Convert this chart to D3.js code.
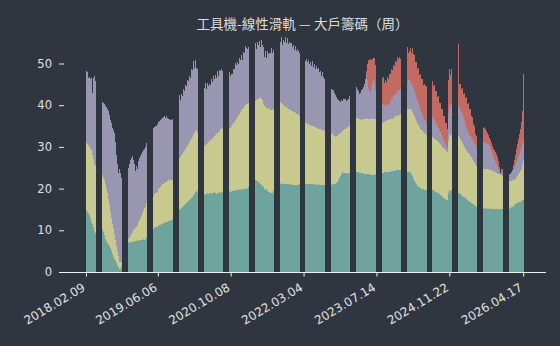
<!DOCTYPE html>
<html>
<head>
<meta charset="utf-8">
<script src="https://cdn.jsdelivr.net/npm/d3@7.9.0/dist/d3.min.js"></script>
<style>
  html, body { margin: 0; padding: 0; background: #2f3640; }
  svg { display: block; }
</style>
</head>
<body>
<svg id="chart" width="560" height="346"></svg>
<script>
// Chart text
const title = '工具機-線性滑軌 — 大戶籌碼（周）';
const tickLabels = ['2018.02.09', '2019.06.06', '2020.10.08', '2022.03.04', '2023.07.14', '2024.11.22', '2026.04.17'];
const tickIndex = [0, 69, 139, 209, 279, 349, 420];
const yTicks = [0, 10, 20, 30, 40, 50];

// Weekly series (bottom to top), % held
const teal = [
  14.9,14.5,14.2,13.6,13.0,12.1,11.5,10.8,9.9,9.3,
  9.5,10.0,10.4,10.8,11.0,
  10.2,9.5,8.8,8.0,7.5,7.0,6.6,6.2,5.7,5.0,4.3,3.7,3.2,2.6,2.1,1.6,1.2,0.8,
  0.8,1.5,3.0,5.0,6.3,6.8,
  7.0,7.1,7.0,7.2,7.3,7.2,7.4,7.3,7.5,7.4,7.6,7.5,7.6,7.7,7.6,7.7,7.8,7.7,7.8,
  8.3,8.9,9.4,9.8,10.0,
  10.2,10.4,10.5,10.7,10.8,10.9,11.1,11.2,11.3,11.4,11.6,11.7,11.8,11.9,12.0,12.1,12.2,12.3,12.4,12.5,12.5,
  13.0,13.5,14.0,14.3,
  14.6,14.8,15.0,15.3,15.5,15.8,16.0,16.2,16.5,16.7,17.0,17.2,17.5,17.8,18.1,18.5,18.8,19.2,19.4,
  19.3,19.2,19.1,19.0,19.0,
  18.6,18.7,18.5,18.8,18.9,18.7,18.9,19.0,18.8,18.9,19.1,18.9,19.0,18.8,19.0,18.9,19.1,19.0,19.1,
  19.2,19.2,19.3,19.3,19.2,19.3,
  19.3,19.4,19.3,19.5,19.4,19.6,19.5,19.6,19.7,19.6,19.8,19.7,19.8,19.9,19.8,20.0,19.9,20.1,20.0,
  20.3,20.6,21.0,21.4,21.8,
  21.9,22.0,21.8,21.9,21.6,21.3,21.2,20.9,20.6,20.3,20.0,19.7,19.8,19.4,19.2,19.1,18.9,19.0,18.9,
  19.4,19.9,20.4,20.8,21.1,
  21.3,21.2,21.3,21.2,21.1,21.2,21.1,21.0,21.1,21.0,21.0,20.9,21.0,20.9,20.9,20.8,20.9,20.8,20.9,
  20.9,21.0,21.1,21.2,21.3,
  21.2,21.1,21.2,21.1,21.0,21.1,21.0,21.0,21.1,21.0,20.9,21.0,20.9,20.9,21.0,20.9,20.8,20.9,20.8,20.9,
  20.9,20.9,20.9,20.9,20.9,
  20.9,20.9,21.0,21.0,21.1,21.2,21.3,21.6,22.0,22.5,23.0,23.6,24.0,23.8,23.7,23.8,23.7,23.6,23.7,
  23.8,23.9,23.9,24.0,24.0,
  24.0,24.0,23.9,23.9,23.8,23.8,23.7,23.7,23.6,23.6,23.5,23.5,23.4,23.4,23.4,23.3,23.3,23.3,23.3,23.3,
  23.4,23.5,23.6,23.6,23.7,
  23.7,23.8,23.8,23.9,23.9,24.0,24.0,24.0,24.1,24.1,24.2,24.2,24.3,24.3,24.4,24.4,24.5,24.5,24.5,
  24.5,24.5,24.4,24.4,24.3,
  24.0,24.1,24.0,24.0,23.9,23.6,23.0,22.4,21.9,21.4,21.0,20.6,20.4,20.3,20.1,20.0,19.8,19.8,19.7,
  19.7,19.7,19.7,19.7,19.7,
  19.8,19.7,19.6,19.4,19.3,19.1,19.0,18.9,18.7,18.5,18.3,18.0,17.8,17.6,17.4,17.3,17.2,19.0,19.6,19.4,19.7,
  19.5,19.3,19.2,19.0,
  19.2,19.0,18.9,18.7,18.5,18.3,18.1,17.9,17.7,17.5,17.3,17.1,16.9,16.7,16.6,16.4,16.2,16.0,15.8,15.7,
  15.5,15.4,15.4,15.3,
  15.3,15.2,15.3,15.2,15.3,15.2,15.2,15.3,15.2,15.2,15.1,15.2,15.1,15.2,15.1,15.1,15.2,15.1,15.1,15.2,
  15.1,15.0,15.0,14.9,14.9,
  14.9,15.1,15.3,15.5,15.7,15.9,16.1,16.3,16.5,16.6,16.7,16.8,16.9,17.0,17.2,17.3
];

const yellow = [
  16.3,16.3,16.3,16.3,16.5,17.1,16.5,16.3,16.1,16.1,
  15.0,14.5,14.0,13.5,13.0,
  13.1,13.1,13.2,13.0,12.5,12.0,11.0,9.8,8.8,8.0,7.2,6.6,5.8,5.0,4.1,3.4,2.6,1.7,
  1.5,1.0,0.8,0.5,0.4,0.3,
  0.4,0.7,1.2,1.4,1.9,2.4,2.7,3.1,3.1,3.5,3.7,4.4,4.8,5.3,5.9,6.5,7.0,7.6,7.9,
  8.2,8.0,8.0,8.0,8.0,
  7.8,7.9,8.1,8.2,8.2,8.4,8.7,9.0,9.2,9.4,9.4,9.5,9.5,9.7,9.7,9.8,10.0,9.5,9.6,9.6,9.5,
  10.5,11.0,11.5,12.0,
  12.4,12.5,12.6,12.7,12.8,12.9,13.1,13.3,13.4,13.6,13.8,14.0,14.1,14.2,14.3,14.5,14.6,14.6,14.6,
  14.0,13.0,12.0,11.5,11.2,
  11.4,11.5,11.9,11.9,12.0,12.4,12.4,12.6,13.0,13.1,13.2,13.6,13.8,14.2,14.3,14.7,14.8,15.2,15.4,
  15.0,14.8,14.6,14.6,14.6,14.7,
  14.9,15.2,15.7,15.9,16.3,16.4,16.9,17.2,17.5,18.0,18.2,18.7,19.0,19.2,19.6,19.8,20.2,20.2,20.4,
  20.2,20.0,19.6,19.3,19.0,
  18.9,19.0,19.4,19.5,20.0,20.5,20.8,20.7,20.6,20.1,19.8,19.9,19.6,19.8,20.1,19.9,20.0,19.8,19.9,
  19.8,19.9,20.0,20.0,20.0,
  19.7,19.6,19.3,19.1,18.9,18.6,18.5,18.5,18.2,18.1,18.0,17.9,17.7,17.7,17.5,17.5,17.3,17.2,17.1,
  17.0,16.5,16.0,15.5,15.0,
  14.8,14.7,14.5,14.4,14.4,14.1,14.2,14.0,14.0,13.9,13.9,13.8,13.7,13.6,13.4,13.4,13.4,13.2,13.2,13.1,
  13.0,12.8,12.6,12.5,12.4,
  12.7,12.4,12.0,11.8,11.4,11.2,11.2,11.1,11.0,10.7,10.4,10.0,9.8,10.2,10.5,10.6,10.8,11.1,11.1,
  11.5,12.0,12.5,12.8,13.0,
  13.2,13.0,13.0,12.8,12.8,12.7,12.9,12.8,13.1,13.2,13.3,13.4,13.3,13.4,13.2,13.5,13.6,13.4,13.5,13.5,
  13.2,12.8,12.5,12.2,12.0,
  12.0,12.0,12.1,12.1,12.3,12.3,12.4,12.5,12.5,12.6,12.6,12.6,12.7,12.9,12.9,13.0,13.0,13.1,13.2,
  13.5,14.0,14.5,14.6,14.7,
  14.8,14.9,15.2,15.2,15.1,15.2,15.4,15.6,15.5,15.4,15.2,15.0,14.8,14.5,14.3,14.0,13.9,13.7,13.6,
  13.4,13.2,13.0,12.9,12.8,
  12.8,12.7,12.6,12.6,12.5,12.5,12.4,12.3,12.2,12.1,12.0,12.0,11.9,11.8,11.8,11.7,11.6,12.5,13.4,13.2,13.5,
  13.4,13.4,13.4,13.5,
  13.8,13.7,13.5,13.2,12.9,12.6,12.3,12.1,11.9,11.7,11.5,11.4,11.3,11.2,11.0,10.7,10.4,10.1,9.9,9.6,
  9.5,9.5,9.5,9.6,
  9.6,9.6,9.5,9.5,9.4,9.4,9.4,9.2,9.3,9.2,9.2,9.0,9.0,8.8,8.7,8.6,8.3,8.3,8.2,8.1,
  8.0,7.6,7.3,7.1,7.0,
  7.1,6.8,6.5,6.4,6.3,6.1,6.0,5.9,6.1,6.4,6.7,7.0,7.4,7.8,8.4,9.6
];

const purple = [
  16.9,17.1,16.0,16.9,16.8,17.4,15.0,19.4,20.9,20.4,
  19.5,18.5,18.0,17.5,17.2,
  17.5,17.9,18.2,18.8,19.6,20.0,20.9,21.6,22.0,22.8,23.0,23.7,24.3,23.6,21.8,21.0,19.9,22.3,
  21.5,20.0,19.0,17.5,16.8,16.4,
  16.6,17.2,17.8,18.3,18.1,18.1,16.7,15.6,13.6,14.4,13.3,14.6,15.0,14.7,14.8,14.6,14.5,14.3,14.3,
  14.5,15.0,15.5,16.0,16.0,
  16.0,16.2,16.2,16.2,16.0,16.3,16.1,16.0,16.0,16.0,16.0,16.0,16.2,15.4,15.6,15.0,14.4,15.0,14.5,14.3,14.7,
  15.0,15.5,16.0,16.5,
  17.0,15.2,13.6,14.6,14.0,15.3,14.2,15.4,14.6,15.8,14.9,15.9,15.0,16.6,16.0,17.6,15.6,17.1,15.0,
  15.5,15.5,15.3,15.2,15.2,
  15.0,14.0,14.9,13.2,14.4,13.5,13.8,13.3,14.4,13.6,14.6,13.9,14.4,13.6,14.9,13.4,14.5,14.0,14.2,
  14.0,14.0,14.2,14.3,14.3,14.2,
  13.8,12.4,12.6,12.0,13.0,12.6,13.7,12.8,13.1,12.3,13.4,12.4,13.3,11.8,13.3,12.8,14.0,13.5,13.0,
  13.5,13.6,13.5,13.4,13.4,
  13.2,13.8,12.2,13.7,12.8,13.7,12.0,14.1,13.2,13.6,11.8,13.3,12.0,13.7,12.9,13.6,13.7,14.8,13.6,
  14.0,14.5,14.8,15.0,15.2,
  15.4,14.4,15.8,14.1,15.6,15.4,16.7,15.5,16.7,15.5,16.2,16.0,16.3,15.4,16.0,14.9,16.0,15.0,15.5,
  15.0,15.0,15.0,15.2,15.2,
  15.2,14.8,15.3,14.9,15.4,14.6,15.2,14.4,15.4,14.3,15.0,14.0,14.8,14.3,14.6,13.6,14.0,12.9,14.0,12.8,
  12.5,12.0,11.5,11.0,10.8,
  10.8,10.7,10.6,10.8,10.5,10.0,9.5,8.9,8.2,7.8,7.4,7.6,7.2,7.4,7.4,7.0,6.5,6.5,6.7,
  7.0,7.5,7.8,8.0,8.0,
  7.6,7.4,6.9,6.7,6.2,6.5,7.0,7.5,7.7,8.4,9.6,10.3,9.3,7.4,6.8,6.4,7.6,8.5,9.2,8.8,
  7.0,5.8,5.0,4.6,4.5,
  4.7,4.4,4.1,3.8,3.8,3.7,3.8,3.5,3.8,4.3,4.6,5.0,5.2,5.2,5.5,5.6,5.9,6.0,5.9,
  6.0,6.2,6.4,6.5,6.5,
  6.4,6.6,6.8,6.8,6.6,6.4,6.4,6.2,6.2,6.0,5.8,5.6,5.4,5.0,4.8,4.4,3.9,3.5,3.2,
  3.0,2.8,2.8,2.8,2.9,
  5.0,4.8,4.6,4.4,4.2,3.9,3.6,3.3,3.1,2.9,2.7,2.4,2.1,1.8,1.4,1.2,1.0,6.5,7.0,7.0,7.0,
  7.0,7.0,7.2,7.2,
  7.4,7.3,7.2,7.1,7.0,6.9,6.8,6.4,6.0,5.6,5.2,4.9,4.7,4.6,4.5,4.6,4.7,4.7,4.7,4.7,
  5.5,6.0,6.5,6.8,
  6.7,6.6,6.4,6.3,6.2,6.2,6.0,5.7,5.1,4.6,4.1,3.4,2.8,2.4,2.0,1.6,1.3,0.8,0.4,0.5,
  0.6,0.7,0.8,1.0,1.2,
  1.7,1.5,1.7,2.0,2.3,2.7,3.1,3.6,3.8,4.0,4.2,4.5,4.7,5.0,5.1,4.8
];

const red = [
  0,0,0,0,0,0,0,0,0,0,0,0,0,0,0,0,0,0,0,0,0,0,0,0,0,0,0,0,0,0,
  0,0,0,0,0,0,0,0,0,0,0,0,0,0,0,0,0,0,0,0,0,0,0,0,0,0,0,0,0,0,
  0,0,0,0,0,0,0,0,0,0,0,0,0,0,0,0,0,0,0,0,0,0,0,0,0,0,0,0,0,0,
  0,0,0,0,0,0,0,0,0,0,0,0,0,0,0,0,0,0,0,0,0,0,0,0,0,0,0,0,0,0,
  0,0,0,0,0,0,0,0,0,0,0,0,0,0,0,0,0,0,0,0,0,0,0,0,0,0,0,0,0,0,
  0,0,0,0,0,0,0,0,0,0,0,0,0,0,0,0,0,0,0,0,0,0,0,0,0,0,0,0,0,0,
  0,0,0,0,0,0,0,0,0,0,0,0,0,0,0,0,0,0,0,0,0,0,0,0,0,0,0,0,0,0,
  0,0,0,0,0,0,0,0,0,0,0,0,0,0,0,0,0,0,0,0,0,0,0,0,0,0,0,0,0,0,
  0,0,0,0,0,0,0,0,0,0,0,0,0,0,0,0,0,0,0,0,0,0,0,0,0,0,0,0,0,
  1.0,3.8,6.6,7.4,7.8,6.4,5.8,5.2,5.8,
  6.0,6.5,7.0,7.2,7.4,
  7.4,6.4,6.8,5.6,6.0,5.6,6.6,6.4,7.2,6.4,7.2,6.6,7.4,7.0,7.9,7.4,8.2,7.4,7.9,
  7.0,6.8,6.6,6.5,6.5,
  6.8,8.4,6.6,7.0,8.2,7.2,8.8,8.0,8.4,7.6,8.4,7.6,8.4,7.4,8.4,7.8,8.8,7.8,8.5,
  8.5,9.0,9.5,10.0,10.0,
  8.2,8.6,7.8,8.4,7.4,7.9,7.0,7.7,6.6,7.1,6.0,6.6,5.6,6.2,5.2,5.6,4.6,8.0,8.8,7.6,8.6,
  7.0,6.5,6.0,5.8,
  6.0,14.6,5.4,6.2,5.4,6.4,5.6,6.6,6.2,7.2,6.4,7.2,6.1,6.7,5.3,5.5,4.1,4.2,2.6,2.6,
  2.5,2.8,3.0,3.2,
  2.6,3.2,3.6,3.4,2.9,2.5,2.2,2.0,2.1,2.0,1.8,2.0,2.3,2.4,2.4,2.3,1.8,1.0,0.1,0.8,
  1.0,1.2,1.4,1.6,1.8,
  1.6,0.0,0.0,0.0,0.2,0.9,1.6,2.2,3.0,3.6,4.2,4.7,5.4,6.2,7.8,15.9
];

const keys = ['teal', 'yellow', 'purple', 'red'];
const colors = { teal: '#6fa39d', yellow: '#c8c98f', purple: '#9996b1', red: '#c36b63' };

const rows = teal.map((v, i) => ({ i, teal: v, yellow: yellow[i], purple: purple[i], red: red[i] }));

const svg = d3.select('#chart');
const plotLeft = 59, plotRight = 546;

// bars are narrower than a pixel; crisp edges drop the ones that miss a pixel centre
const x = d3.scaleBand()
  .domain(rows.map(d => d.i))
  .range([86.09, 86.09 + 1.041 * (rows.length - 0.23)])
  .paddingInner(0.23)
  .paddingOuter(0);

const y = d3.scaleLinear().domain([0, 50]).range([272, 63.5]);

const series = d3.stack().keys(keys)(rows);

svg.append('g')
  .attr('shape-rendering', 'crispEdges')
  .selectAll('g')
  .data(series)
  .join('g')
  .attr('fill', s => colors[s.key])
  .selectAll('rect')
  .data(s => s)
  .join('rect')
  .attr('x', d => x(d.data.i))
  .attr('width', x.bandwidth())
  .attr('y', d => y(d[1]))
  .attr('height', d => Math.max(0, y(d[0]) - y(d[1])));

// y axis: labels and short inward ticks, no spine
const yAxis = svg.append('g')
  .attr('transform', `translate(${plotLeft + 5},0)`)
  .call(d3.axisLeft(y).tickValues(yTicks).tickSize(5).tickPadding(7));
yAxis.select('.domain').remove();
yAxis.selectAll('line').attr('stroke', '#e8e8e8');
yAxis.selectAll('text')
  .attr('fill', '#e0e0e0')
  .style('font-family', 'DejaVu Sans, sans-serif')
  .style('font-size', '11.5px');

// x axis spine
svg.append('line')
  .attr('x1', plotLeft).attr('x2', plotRight)
  .attr('y1', y(0) + 0.5).attr('y2', y(0) + 0.5)
  .attr('stroke', '#f2f2f2').attr('stroke-width', 1.2);

const xTicks = svg.append('g');
tickIndex.forEach((idx, k) => {
  const tx = x(idx) + x.bandwidth() / 2;
  xTicks.append('line')
    .attr('x1', tx).attr('x2', tx)
    .attr('y1', y(0)).attr('y2', y(0) + 4.5)
    .attr('stroke', '#f2f2f2');
  xTicks.append('text')
    .attr('transform', `translate(${tx - 5},${282}) rotate(-31)`)
    .attr('text-anchor', 'end')
    .attr('dy', '0.75em')
    .attr('fill', '#e0e0e0')
    .style('font-family', 'DejaVu Sans, sans-serif')
    .style('font-size', '12px')
    .text(tickLabels[k]);
});

svg.append('text')
  .attr('x', (plotLeft + plotRight) / 2)
  .attr('y', 29)
  .attr('text-anchor', 'middle')
  .attr('fill', '#dcdcdc')
  .style('font-family', '"Noto Sans CJK TC", "Noto Sans CJK SC", sans-serif')
  .style('font-size', '13.5px')
  .text(title);
</script>
</body>
</html>
